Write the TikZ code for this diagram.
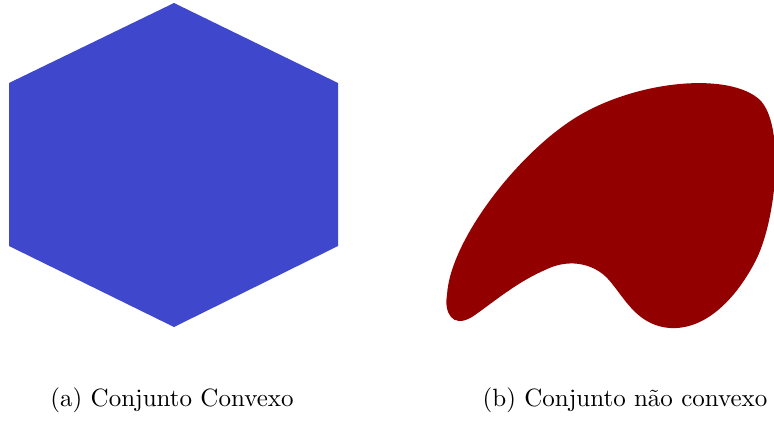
\documentclass[tikz,border=0pt]{standalone}
\begin{document}
\begin{tikzpicture}[x=0.4pt,y=-0.4pt,
  caplabel/.style={font=\fontsize{10pt}{12pt}\selectfont, inner sep=0pt, anchor=base}]
\definecolor{hexblue}{RGB}{63,72,204}
\definecolor{blobred}{RGB}{147,0,0}
\useasboundingbox (0,0) rectangle (774,427);
\fill[hexblue] (174,3) -- (338,83) -- (338,246) -- (174,327) -- (9,246) -- (9,83) -- cycle;
\fill[blobred] (447,295)
  .. controls (450,240) and (520,150) .. (580,115)
  .. controls (640,80) and (730,72) .. (760,100)
  .. controls (785,125) and (777,220) .. (755,262)
  .. controls (735,300) and (705,330) .. (670,328)
  .. controls (630,325) and (620,285) .. (600,272)
  .. controls (585,262) and (565,260) .. (545,270)
  .. controls (515,283) and (490,305) .. (472,317)
  .. controls (452,329) and (444,312) .. (447,295) -- cycle;
\node[caplabel] (capa) at (172,406) {(a) Conjunto Convexo};
\node[caplabel] (capb) at (625,406) {(b) Conjunto não convexo};
\end{tikzpicture}
\end{document}
